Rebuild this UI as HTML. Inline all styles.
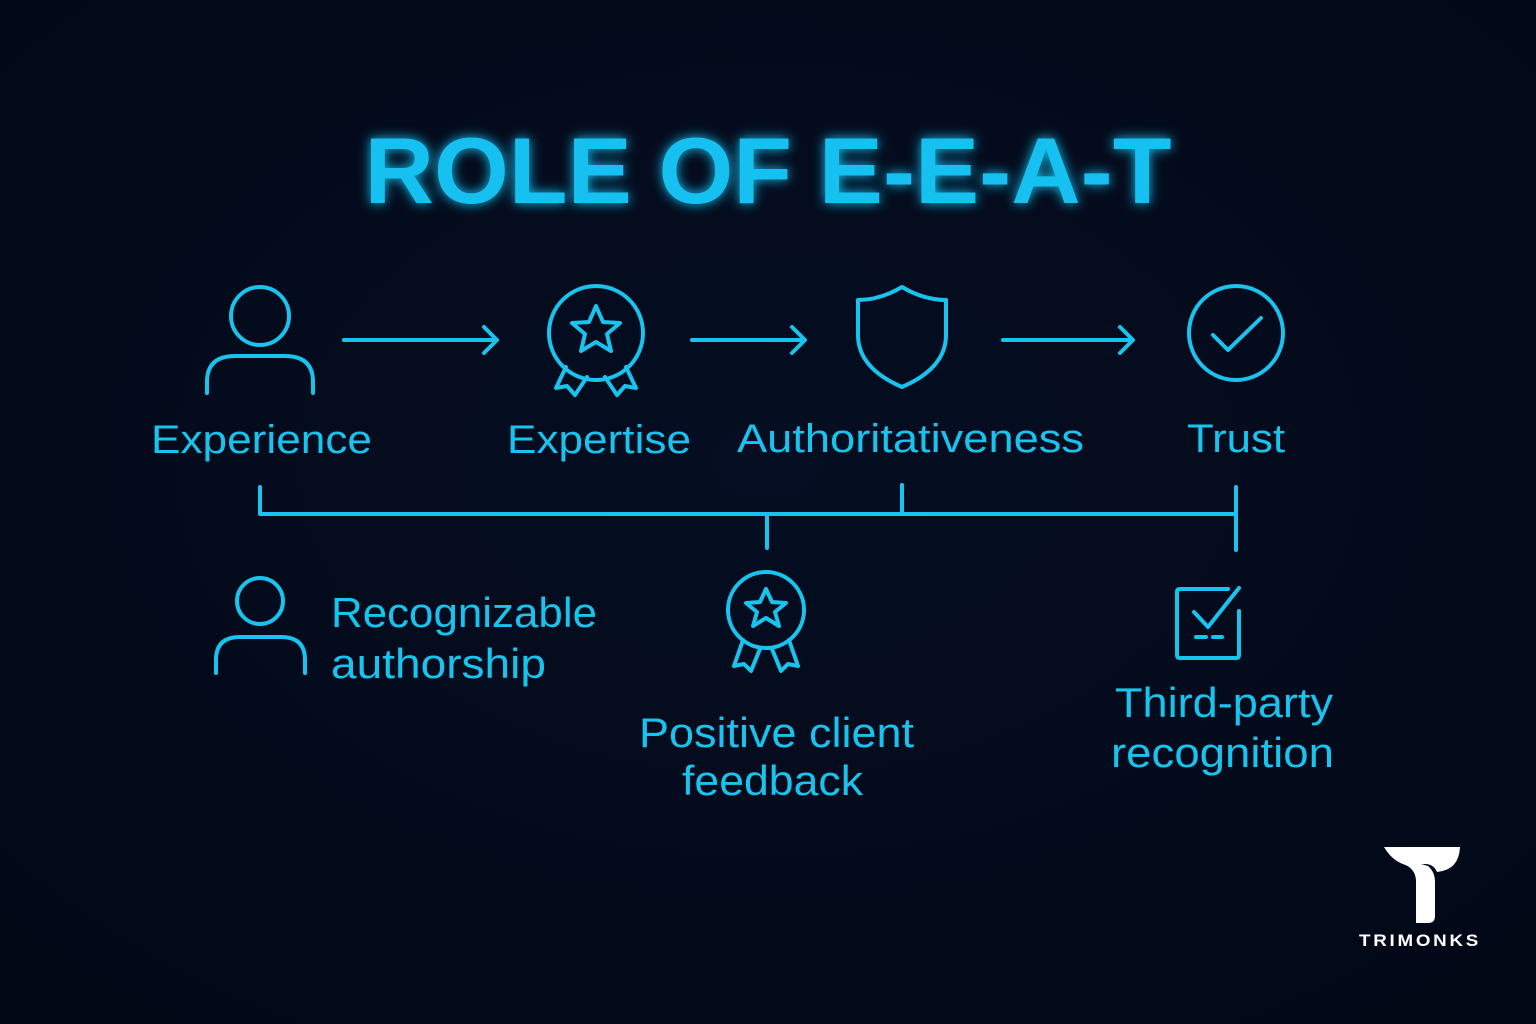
<!DOCTYPE html>
<html><head><meta charset="utf-8"><style>
html,body{margin:0;padding:0;background:#030a1b;}
svg{display:block}
</style></head><body>
<svg width="1536" height="1024" viewBox="0 0 1536 1024" xmlns="http://www.w3.org/2000/svg">
<defs>
<radialGradient id="bg" cx="50%" cy="45%" r="70%"><stop offset="0" stop-color="#050e22"/><stop offset="1" stop-color="#020816"/></radialGradient>
<filter id="glow" x="-20%" y="-40%" width="140%" height="180%"><feGaussianBlur stdDeviation="6" result="b"/><feMerge><feMergeNode in="b"/><feMergeNode in="SourceGraphic"/></feMerge></filter>
</defs>
<rect width="1536" height="1024" fill="url(#bg)"/>
<text x="768" y="203" text-anchor="middle" font-family="Liberation Sans, sans-serif" font-weight="bold" font-size="94" fill="#14c1f2" textLength="807" lengthAdjust="spacingAndGlyphs" filter="url(#glow)">ROLE OF E-E-A-T</text>

<g fill="none" stroke="#18c4ee" stroke-width="4" stroke-linecap="round" stroke-linejoin="round">
<circle cx="260" cy="316" r="29"/>
<path d="M207,393 V382 Q207,356 235,356 H285 Q313,356 313,382 V393"/>
<path d="M344,340 H496 M484,327 L497,340 L484,353"/>
<path d="M692,340 H804 M792,327 L805,340 L792,353"/>
<path d="M1003,340 H1132 M1120,327 L1133,340 L1120,353"/>
<circle cx="596" cy="333" r="47"/>
<path d="M596,306 L603,322 L620,323 L607,334 L611,351 L596,342 L581,351 L585,334 L572,323 L589,322 Z"/>
<path d="M566,367 L556,388 L567,386 L575,395 L587,377"/>
<path d="M626,367 L636,388 L625,386 L617,395 L605,377"/>
<path d="M902,287 Q880,300 858,300 V335 Q858,368 902,387 Q946,368 946,335 V300 Q924,300 902,287 Z"/>
<circle cx="1236" cy="333" r="47"/>
<path d="M1213,335 L1228,350 L1261,318"/>
<path d="M260,487 V514 H1236 M902,485 V514 M767,514 V548 M1236,487 V550"/>
<circle cx="260" cy="601" r="23"/>
<path d="M216,673 V660 Q216,637 240,637 H281 Q305,637 305,660 V673"/>
<circle cx="766" cy="610" r="38"/>
<path d="M766,589 L772,602 L786,603 L775,612 L779,626 L766,618 L753,626 L757,612 L746,603 L760,602 Z"/>
<path d="M743,640 L734,666 L744,664 L751,671 L760,649"/>
<path d="M789,640 L798,666 L788,664 L781,671 L772,649"/>
<path d="M1228,589 H1180 Q1177,589 1177,592 V655 Q1177,658 1180,658 H1236 Q1239,658 1239,655 V611"/>
<path d="M1194,612 L1208,627 L1239,588"/>
<path d="M1196,637 H1206 M1213,637 H1222"/>
</g>

<g font-family="Liberation Sans, sans-serif" fill="#18c4ee" font-size="40">
<text x="151" y="453" textLength="221" lengthAdjust="spacingAndGlyphs">Experience</text>
<text x="507" y="453" textLength="184" lengthAdjust="spacingAndGlyphs">Expertise</text>
<text x="737" y="452" textLength="347" lengthAdjust="spacingAndGlyphs">Authoritativeness</text>
<text x="1187" y="452" textLength="98" lengthAdjust="spacingAndGlyphs">Trust</text>
<text x="331" y="627" font-size="42" textLength="266" lengthAdjust="spacingAndGlyphs">Recognizable</text>
<text x="331" y="678" font-size="42" textLength="215" lengthAdjust="spacingAndGlyphs">authorship</text>
<text x="639" y="747" font-size="42" textLength="275" lengthAdjust="spacingAndGlyphs">Positive client</text>
<text x="682" y="795" font-size="42" textLength="181" lengthAdjust="spacingAndGlyphs">feedback</text>
<text x="1115" y="717" font-size="42" textLength="218" lengthAdjust="spacingAndGlyphs">Third-party</text>
<text x="1111" y="767" font-size="42" textLength="223" lengthAdjust="spacingAndGlyphs">recognition</text>
</g>

<g fill="#ffffff">
<path d="M1384,847 H1460 Q1459,870 1437,872 Q1432,860 1415,866 Q1395,866 1384,847 Z"/>
<path d="M1403,864 Q1416,862 1428,866 Q1435,872 1435,882 V916 Q1435,923 1428,923 H1416 V880 Q1415,868 1403,864 Z"/>
<text x="1420" y="946" text-anchor="middle" font-family="Liberation Sans, sans-serif" font-weight="bold" font-size="17" letter-spacing="2.5" textLength="122" lengthAdjust="spacingAndGlyphs">TRIMONKS</text>
</g>
</svg>
</body></html>
